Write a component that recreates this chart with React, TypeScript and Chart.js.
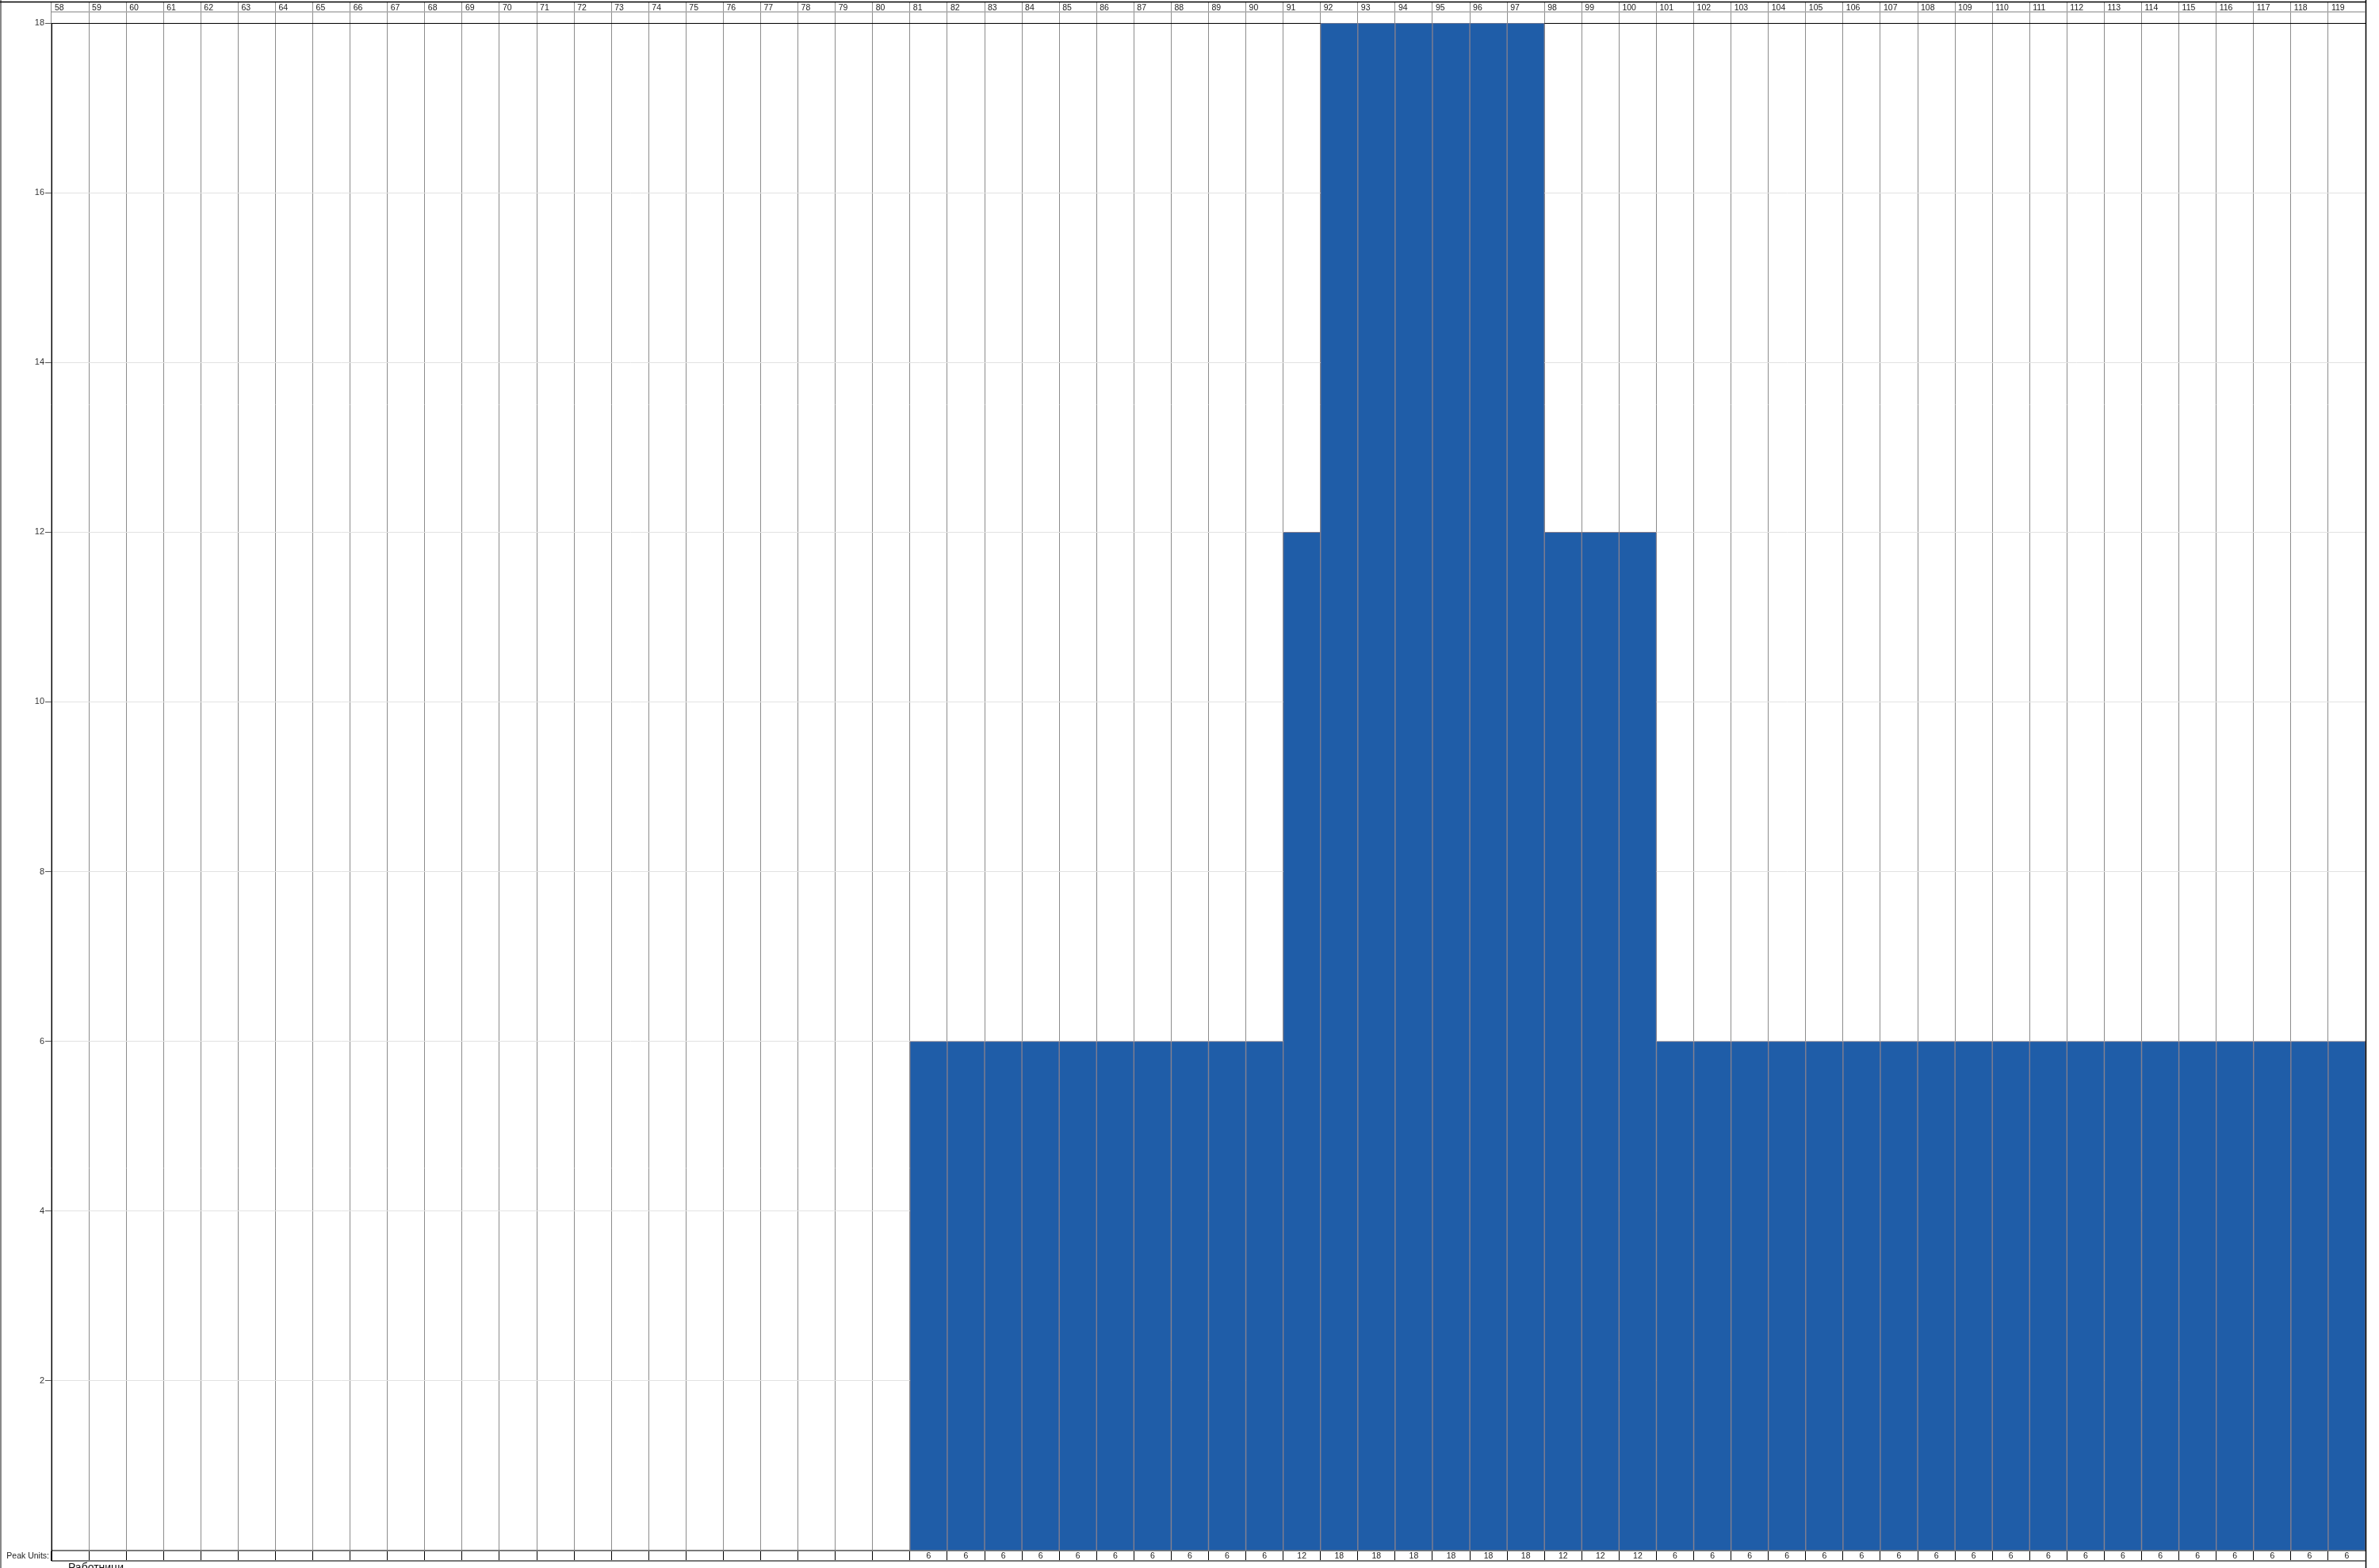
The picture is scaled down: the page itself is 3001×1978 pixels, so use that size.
import React, { useEffect, useRef } from "react";
import { Chart, registerables } from "chart.js";

Chart.register(...registerables);

const periods: string[] = [
  "58","59","60","61","62","63","64","65","66","67","68","69","70","71","72","73","74","75","76","77","78","79","80",
  "81","82","83","84","85","86","87","88","89","90","91","92","93","94","95","96","97","98","99","100",
  "101","102","103","104","105","106","107","108","109","110","111","112","113","114","115","116","117","118","119",
];

const workers: number[] = [
  0,0,0,0,0,0,0,0,0,0,0,0,0,0,0,0,0,0,0,0,0,0,0,
  6,6,6,6,6,6,6,6,6,6,12,18,18,18,18,18,18,12,12,12,
  6,6,6,6,6,6,6,6,6,6,6,6,6,6,6,6,6,6,6,
];

const yTicks: number[] = [2, 4, 6, 8, 10, 12, 14, 16, 18];
const seriesName = "Работници";
const rowLabel = "Peak Units:";

const W = 3001;
const H = 1978;
const LEFT = 65;
const RIGHT = 2984;
const TOP = 29;
const BOTTOM = 1956;
const COLW = (RIGHT - LEFT) / periods.length;
const FONT = 'Arial, "Liberation Sans", sans-serif';

const framePlugin = {
  id: "frame",
  afterDraw(chart: any) {
    const ctx = chart.ctx;
    const x = chart.scales.x;
    ctx.save();
    // outer frame
    ctx.strokeStyle = "#888";
    ctx.lineWidth = 2;
    ctx.beginPath();
    ctx.moveTo(1, 0);
    ctx.lineTo(1, H);
    ctx.stroke();
    ctx.strokeStyle = "#000";
    ctx.lineWidth = 1.5;
    ctx.beginPath();
    ctx.moveTo(0, 2.5);
    ctx.lineTo(RIGHT, 2.5);
    ctx.stroke();
    ctx.lineWidth = 1.5;
    ctx.beginPath();
    ctx.moveTo(RIGHT + 0.5, 0);
    ctx.lineTo(RIGHT + 0.5, H);
    ctx.stroke();
    // header separator
    ctx.strokeStyle = "#aaa";
    ctx.lineWidth = 1.5;
    ctx.beginPath();
    ctx.moveTo(LEFT, 15);
    ctx.lineTo(RIGHT, 15);
    ctx.stroke();
    // bottom of peak-units row
    ctx.strokeStyle = "#777";
    ctx.lineWidth = 2;
    ctx.beginPath();
    ctx.moveTo(LEFT, 1969);
    ctx.lineTo(RIGHT, 1969);
    ctx.stroke();
    // left axis extension
    ctx.strokeStyle = "#000";
    ctx.lineWidth = 1;
    ctx.beginPath();
    ctx.moveTo(LEFT + 0.5, BOTTOM);
    ctx.lineTo(LEFT + 0.5, 1969);
    ctx.stroke();
    // peak units row
    ctx.fillStyle = "#222";
    ctx.font = "10.5px " + FONT;
    ctx.textBaseline = "middle";
    ctx.textAlign = "right";
    ctx.fillText(rowLabel, 62, 1963);
    ctx.textAlign = "center";
    workers.forEach((v, i) => {
      if (v > 0) {
        const px = x.getPixelForValue(i);
        ctx.fillText(String(v), px, 1963);
      }
    });
    // legend label (cut off at the bottom)
    ctx.fillStyle = "#fff";
    ctx.fillRect(83, 1970, 72, 12);
    ctx.fillStyle = "#111";
    ctx.font = "14px " + FONT;
    ctx.textAlign = "left";
    ctx.textBaseline = "alphabetic";
    ctx.fillText(seriesName, 86, 1982);
    ctx.restore();
  },
};

export default function App() {
  const ref = useRef<HTMLCanvasElement | null>(null);
  useEffect(() => {
    document.body.style.margin = "0";
    document.body.style.overflow = "hidden";
    if (!ref.current) return;
    const chart = new Chart(ref.current, {
      type: "bar",
      data: {
        labels: periods,
        datasets: [
          {
            label: seriesName,
            data: workers,
            backgroundColor: "#1f5da8",
            borderColor: "#86808f",
            borderWidth: 1,
            barPercentage: 1,
            categoryPercentage: 1,
            xAxisID: "x",
          },
        ],
      },
      options: {
        animation: false,
        responsive: false,
        devicePixelRatio: 1,
        layout: { padding: { left: 0, right: W - RIGHT, top: 0, bottom: 0 } },
        plugins: {
          legend: { display: false },
          tooltip: { enabled: false },
        },
        scales: {
          x: {
            type: "category",
            position: "bottom",
            offset: true,
            grid: {
              offset: true,
              color: "#8c8c8c",
              tickColor: "#000",
              tickLength: 13,
              lineWidth: 1,
            },
            border: { color: "#7a7a7a", width: 2 },
            ticks: { display: false },
            afterFit: (s: any) => {
              s.height = H - BOTTOM;
            },
          },
          xTop: {
            type: "category",
            position: "top",
            offset: true,
            grid: {
              offset: true,
              drawOnChartArea: false,
              tickColor: "#8c8c8c",
              tickLength: 26,
            },
            border: { color: "#000", width: 1 },
            ticks: {
              autoSkip: false,
              maxRotation: 0,
              minRotation: 0,
              align: "start",
              labelOffset: -COLW / 2 + 4,
              padding: -13,
              color: "#222",
              font: { family: FONT, size: 10.5 },
            },
            afterFit: (s: any) => {
              s.height = TOP;
            },
          },
          y: {
            min: 0,
            max: 18,
            afterBuildTicks: (s: any) => {
              s.ticks = [0, ...yTicks].map((v) => ({ value: v }));
            },
            grid: {
              color: (c: any) =>
                c.tick && c.tick.value === 18 ? "#000" : c.tick && c.tick.value === 0 ? "rgba(0,0,0,0)" : "#e2e2e2",
              tickColor: (c: any) => (c.tick && c.tick.value === 0 ? "rgba(0,0,0,0)" : "#555"),
              tickLength: 8,
            },
            border: { color: "#000", width: 1 },
            ticks: {
              padding: 1,
              color: "#333",
              font: { family: FONT, size: 11 },
              callback: (v: any) => (v === 0 ? "" : String(v)),
            },
            afterFit: (s: any) => {
              s.width = LEFT;
            },
          },
        },
      },
      plugins: [framePlugin],
    });
    return () => chart.destroy();
  }, []);
  return (
    <div style={{ position: "absolute", left: 0, top: 0, width: W, height: H, background: "#fff", overflow: "hidden" }}>
      <canvas ref={ref} width={W} height={H} style={{ width: W, height: H, display: "block" }} />
    </div>
  );
}
